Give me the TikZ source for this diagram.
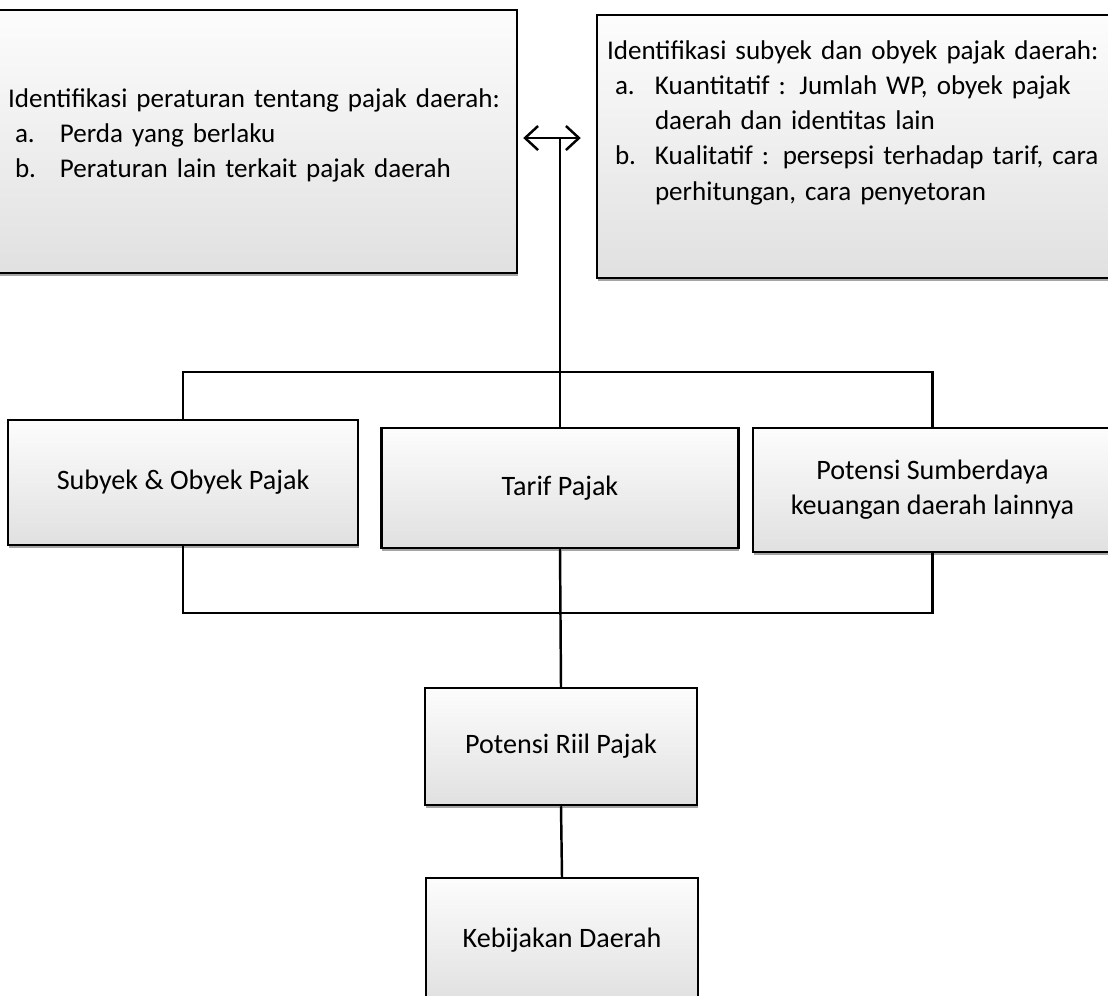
\documentclass[tikz,border=0pt]{standalone}
\usepackage{fontspec}
\setmainfont{Carlito}
\usetikzlibrary{arrows.meta,shadows}

\begin{document}
\begin{tikzpicture}[
	box/.style={draw, line width=0.7pt, top color=gray!2, bottom color=gray!24,
		drop shadow={shadow xshift=0.2pt, shadow yshift=-0.9pt, fill=black!70},
		font=\fontsize{8}{10}\selectfont, inner sep=0pt, align=center},
	idbox/.style={box, minimum height=2.63cm, align=left, font=\fontsize{7.7}{10}\selectfont},
	link/.style={line width=0.7pt}]
	\useasboundingbox (0,0) rectangle (11.08,-9.95);
	% top row: the two identification boxes
	\node[idbox, minimum width=5.27cm, text width=4.91cm] (law) at (2.535,-1.415)
		{\mbox{Identifikasi peraturan tentang pajak daerah:}\\
		\mbox{\hspace*{0.07cm}\makebox[0.45cm][l]{a.}Perda yang berlaku}\\
		\mbox{\hspace*{0.07cm}\makebox[0.45cm][l]{b.}Peraturan lain terkait pajak daerah}\\[-0.18cm]\mbox{}};
	\node[idbox, minimum width=5.18cm, text width=4.98cm] (subj) at (8.56,-1.465)
		{\mbox{Identifikasi subyek dan obyek pajak daerah:}\\
		\mbox{\hspace*{0.08cm}\makebox[0.4cm][l]{a.}Kuantitatif : Jumlah WP, obyek pajak}\\
		\mbox{\hspace*{0.48cm}daerah dan identitas lain}\\
		\mbox{\hspace*{0.08cm}\makebox[0.4cm][l]{b.}Kualitatif : persepsi terhadap tarif, cara}\\
		\mbox{\hspace*{0.48cm}perhitungan, cara penyetoran}\\[0.17cm]\mbox{}};
	% middle row
	\node[box, minimum width=3.5cm, minimum height=1.25cm] (sobox) at (1.83,-4.825) {Subyek \& Obyek Pajak};
	\node[box, minimum width=3.57cm, minimum height=1.2cm] (tarif) at (5.6,-4.88) {Tarif Pajak};
	\node[box, minimum width=3.59cm, minimum height=1.24cm] (potsd) at (9.325,-4.9) {Potensi Sumberdaya\\keuangan daerah lainnya};
	% bottom column
	\node[box, minimum width=2.72cm, minimum height=1.17cm] (riil) at (5.61,-7.465) {Potensi Riil Pajak};
	\node[box, minimum width=2.72cm, minimum height=1.24cm] (kebij) at (5.62,-9.4) {Kebijakan Daerah};
	% connectors
	\coordinate (hub) at (5.6,-1.38);
	\draw[link, {Straight Barb[length=1.3mm,width=2.4mm]}-{Straight Barb[length=1.3mm,width=2.4mm]}]
		([xshift=0.05cm]law.east |- hub) -- ([xshift=-0.15cm]subj.west |- hub);
	\draw[link] (hub) -- (tarif.north);
	\draw[link] (sobox.north) |- ([yshift=0.55cm]potsd.north) -- (potsd.north);
	\draw[link] (sobox.south) |- ([yshift=-0.6cm]potsd.south) -- (potsd.south);
	\draw[link] (tarif.south) -- (riil.north);
	\draw[link] (riil.south) -- (kebij.north);
\end{tikzpicture}
\end{document}
